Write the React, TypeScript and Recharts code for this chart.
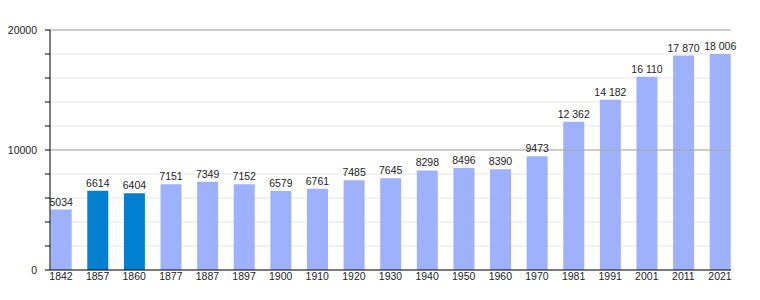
import { BarChart, Bar, Cell, XAxis, YAxis, CartesianGrid, ReferenceLine, LabelList } from 'recharts';

const annees = ['1842', '1857', '1860', '1877', '1887', '1897', '1900', '1910', '1920', '1930', '1940', '1950', '1960', '1970', '1981', '1991', '2001', '2011', '2021'];
const population = [5034, 6614, 6404, 7151, 7349, 7152, 6579, 6761, 7485, 7645, 8298, 8496, 8390, 9473, 12362, 14182, 16110, 17870, 18006];
const anneesEnEvidence = ['1857', '1860'];
const ticksY = [0, 2000, 4000, 6000, 8000, 10000, 12000, 14000, 16000, 18000, 20000];
const lignesMajeures = [10000, 20000];

const COULEUR_BARRE = '#9db1fd';
const COULEUR_EVIDENCE = '#0080d0';
const POLICE = '"Liberation Sans", Arial, sans-serif';

// séparateur de milliers (espace insécable pour éviter le retour à la ligne) au-delà de 9999
function formaterValeur(v: number): string {
  if (v >= 10000) {
    return String(v).replace(/\B(?=(\d{3})+(?!\d))/g, '\u00a0');
  }
  return String(v);
}

const dados = annees.map((annee, i) => ({ idx: i, annee, population: population[i] }));

export default function App() {
  return (
    <div style={{ position: 'absolute', left: 0, top: 0, fontFamily: POLICE }}>
      <BarChart width={760} height={300} data={dados} margin={{ top: 30, right: 29, bottom: 0, left: 0 }}>
        <CartesianGrid vertical={false} stroke="#e6e6e6" />
        {lignesMajeures.map((v) => (
          <ReferenceLine key={v} y={v} stroke="#a8a8a8" />
        ))}
        <XAxis
          dataKey="idx"
          type="number"
          domain={[-0.3, 18.3]}
          ticks={dados.map((d) => d.idx)}
          interval={0}
          tickFormatter={(i: number) => annees[i] ?? ''}
          tickLine={false}
          tickSize={0}
          tickMargin={3}
          height={30}
          axisLine={{ stroke: '#000' }}
          tick={{ fill: '#222', fontSize: 10.5, fontFamily: POLICE }}
        />
        <YAxis
          width={50}
          domain={[0, 20000]}
          ticks={ticksY}
          interval={0}
          tickSize={5}
          tickMargin={8}
          tickFormatter={(v: number) => (v % 10000 === 0 ? String(v) : '')}
          axisLine={{ stroke: '#000' }}
          tickLine={{ stroke: '#000' }}
          tick={{ fill: '#222', fontSize: 10.5, fontFamily: POLICE }}
        />
        <Bar dataKey="population" barSize={21} isAnimationActive={false}>
          {dados.map((d) => (
            <Cell key={d.annee} fill={anneesEnEvidence.includes(d.annee) ? COULEUR_EVIDENCE : COULEUR_BARRE} />
          ))}
          <LabelList
            dataKey="population"
            position="top"
            offset={4}
            formatter={(v: number) => formaterValeur(v)}
            style={{ fill: '#222', fontSize: 10.5, fontFamily: POLICE }}
          />
        </Bar>
      </BarChart>
    </div>
  );
}
